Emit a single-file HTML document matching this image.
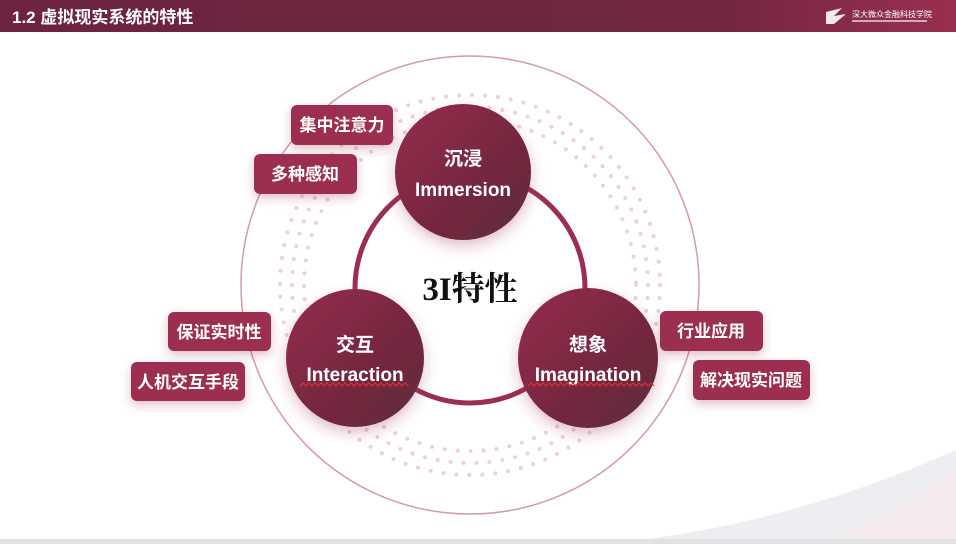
<!DOCTYPE html>
<html><head><meta charset="utf-8"><style>
html,body{margin:0;padding:0;width:956px;height:544px;overflow:hidden;background:#fff;font-family:"Liberation Sans","Noto Sans CJK SC",sans-serif;}
</style></head><body>
<svg width="956" height="544" viewBox="0 0 956 544" xmlns="http://www.w3.org/2000/svg" style="position:absolute;left:0;top:0">
<defs>
<linearGradient id="hdr" x1="0" x2="1" y1="0" y2="0"><stop offset="0" stop-color="#6c2440"/><stop offset="0.75" stop-color="#722641"/><stop offset="1" stop-color="#9a2f50"/></linearGradient>
<linearGradient id="ball" x1="0" y1="0" x2="1" y2="1"><stop offset="0" stop-color="#962a4c"/><stop offset="0.6" stop-color="#74283f"/><stop offset="1" stop-color="#5e2a3a"/></linearGradient>
<filter id="sh" x="-40%" y="-40%" width="180%" height="180%"><feDropShadow dx="0" dy="6" stdDeviation="7" flood-color="#9a2f50" flood-opacity="0.3"/></filter>
<filter id="sh2" x="-30%" y="-40%" width="160%" height="200%"><feDropShadow dx="0" dy="4" stdDeviation="5" flood-color="#9a2f50" flood-opacity="0.3"/></filter>
</defs>
<rect x="0" y="0" width="956" height="32" fill="url(#hdr)"/>
<text x="12" y="23" font-size="17" font-weight="bold" fill="#fff" font-family="Liberation Sans,Noto Sans CJK SC,sans-serif">1.2 虚拟现实系统的特性</text>
<path d="M826 12 L842 8 L834 16 L846 14 L834 24 L826 24 Z" fill="#fff" opacity="0.9"/>
<text x="852" y="17" font-size="8" fill="#fff">深大微众金融科技学院</text>
<rect x="852" y="20" width="75" height="2" fill="#fff" opacity="0.6"/>
<path d="M640 540 Q800 520 956 450 L956 544 L640 544 Z" fill="#eceef2"/>
<path d="M820 544 Q900 510 956 470 L956 544 Z" fill="#f4eaee"/>
<rect x="0" y="539" width="956" height="5" fill="#e2e2e2"/>
<circle cx="470" cy="285" r="229" fill="none" stroke="#d39aae" stroke-width="1.5"/>
<g fill="none" stroke="#ecd0da" stroke-linecap="round" stroke-dasharray="0 13" stroke-width="4">
<circle cx="470" cy="285" r="190"/>
<circle cx="470" cy="285" r="178"/>
<circle cx="470" cy="285" r="166"/>
</g>
<circle cx="470" cy="288" r="115" fill="none" stroke="#9a2f50" stroke-width="5"/>
<text x="470" y="300" text-anchor="middle" font-size="33" font-weight="bold" fill="#111" font-family="Liberation Serif,Noto Serif CJK SC,serif">3I特性</text>
<g filter="url(#sh)">
<circle cx="463" cy="172" r="68" fill="url(#ball)"/>
<circle cx="355" cy="358" r="69" fill="url(#ball)"/>
<circle cx="588" cy="358" r="70" fill="url(#ball)"/>
</g>
<g fill="#fff" font-weight="bold" text-anchor="middle" font-size="19">
<text x="463" y="165">沉浸</text>
<text x="463" y="196">Immersion</text>
<text x="355" y="351">交互</text>
<text x="355" y="381">Interaction</text>
<text x="588" y="351">想象</text>
<text x="588" y="381">Imagination</text>
</g>
<path d="M300 386 l3 -3 l3 3 l3 -3 l3 3 l3 -3 l3 3 l3 -3 l3 3 l3 -3 l3 3 l3 -3 l3 3 l3 -3 l3 3 l3 -3 l3 3 l3 -3 l3 3 l3 -3 l3 3 l3 -3 l3 3 l3 -3 l3 3 l3 -3 l3 3 l3 -3 l3 3 l3 -3 l3 3 l3 -3 l3 3 l3 -3 l3 3 l3 -3 l3 3" fill="none" stroke="#e03030" stroke-width="1.2"/>
<path d="M528 386 l3 -3 l3 3 l3 -3 l3 3 l3 -3 l3 3 l3 -3 l3 3 l3 -3 l3 3 l3 -3 l3 3 l3 -3 l3 3 l3 -3 l3 3 l3 -3 l3 3 l3 -3 l3 3 l3 -3 l3 3 l3 -3 l3 3 l3 -3 l3 3 l3 -3 l3 3 l3 -3 l3 3 l3 -3 l3 3 l3 -3 l3 3 l3 -3 l3 3 l3 -3 l3 3 l3 -3 l3 3 l3 -3 l3 3" fill="none" stroke="#e03030" stroke-width="1.2"/>
<g filter="url(#sh2)" fill="#9c2f50">
<rect x="291" y="105" width="102" height="40" rx="6"/>
<rect x="254" y="154" width="103" height="40" rx="6"/>
<rect x="168" y="312" width="103" height="39" rx="6"/>
<rect x="131" y="362" width="114" height="39" rx="6"/>
<rect x="660" y="311" width="103" height="40" rx="6"/>
<rect x="693" y="360" width="117" height="40" rx="6"/>
</g>
<g fill="#fff" font-weight="bold" text-anchor="middle" font-size="17">
<text x="342" y="131">集中注意力</text>
<text x="305" y="180">多种感知</text>
<text x="219" y="338">保证实时性</text>
<text x="188" y="388">人机交互手段</text>
<text x="711" y="337">行业应用</text>
<text x="751" y="386">解决现实问题</text>
</g>
</svg>
</body></html>
